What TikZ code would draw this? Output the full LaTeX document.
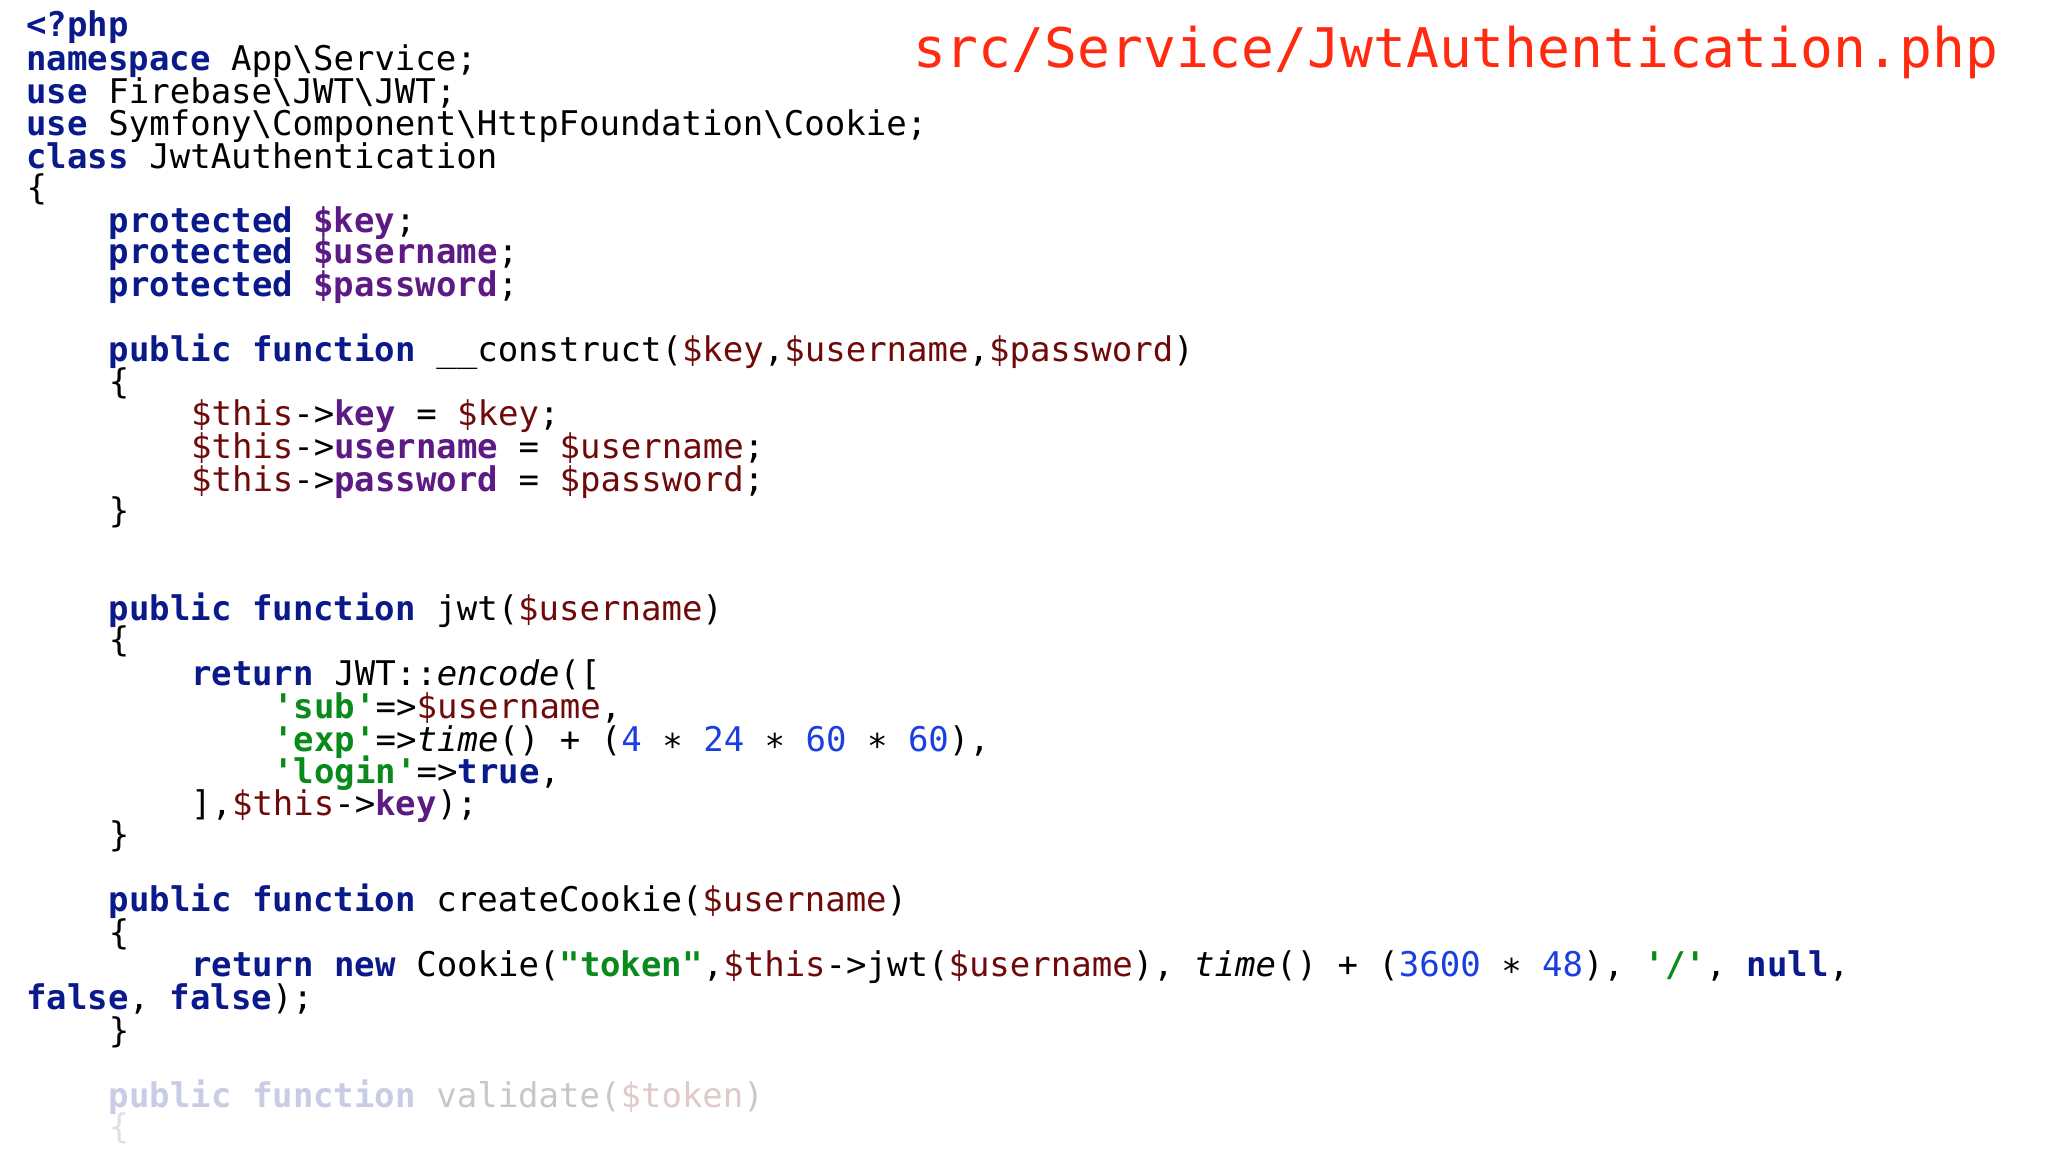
\documentclass[tikz,border=0pt]{standalone}
\usepackage{fontspec}
\setmainfont{DejaVu Sans}
\newfontfamily\codefont[Ligatures=NoCommon]{DejaVu Sans Mono}
\definecolor{kwc}{HTML}{0A1A8A}
\definecolor{pvc}{HTML}{5E1A84}
\definecolor{vac}{HTML}{6E0A0A}
\definecolor{stc}{HTML}{0A8A1A}
\definecolor{nuc}{HTML}{1A3FE0}
\definecolor{ttl}{HTML}{FF2A10}
\newcommand{\ckw}[1]{{\bfseries\color{kwc}#1}}
\newcommand{\cpv}[1]{{\bfseries\color{pvc}#1}}
\newcommand{\cva}[1]{{\color{vac}#1}}
\newcommand{\cst}[1]{{\bfseries\color{stc}#1}}
\newcommand{\cnum}[1]{{\color{nuc}#1}}
\newcommand{\cit}[1]{{\itshape #1}}
\newcommand{\sq}{\char"0027\relax}
\newcommand{\dq}{\char"0022\relax}
\newcommand{\bs}{\char"005C\relax}
\newcommand{\mulop}{\char"2217\relax}
\begin{document}
\begin{tikzpicture}[x=0.653pt,y=-0.653pt,
  cl/.style={anchor=base west,inner sep=0pt,font=\codefont\fontsize{17}{17}\selectfont}]
\useasboundingbox[fill=white] (0,0) rectangle (1568,882);
\node[cl] (l1) at (20,28) {\ckw{<?php}};
\node[cl] (l2) at (20,54) {\ckw{namespace} App\bs Service;};
\node[cl] (l3) at (20,79) {\ckw{use} Firebase\bs JWT\bs JWT;};
\node[cl] (l4) at (20,104) {\ckw{use} Symfony\bs Component\bs HttpFoundation\bs Cookie;};
\node[cl] (l5) at (20,129) {\ckw{class} JwtAuthentication};
\node[cl] (l6) at (20,153) {\{};
\node[cl] (l7) at (83,178) {\ckw{protected} \cpv{\$key};};
\node[cl] (l8) at (83,202) {\ckw{protected} \cpv{\$username};};
\node[cl] (l9) at (83,227) {\ckw{protected} \cpv{\$password};};
\node[cl] (l10) at (83,277) {\ckw{public} \ckw{function} \_\_construct(\cva{\$key},\cva{\$username},\cva{\$password})};
\node[cl] (l11) at (83,301) {\{};
\node[cl] (l12) at (146,326) {\cva{\$this}->\cpv{key} = \cva{\$key};};
\node[cl] (l13) at (146,351) {\cva{\$this}->\cpv{username} = \cva{\$username};};
\node[cl] (l14) at (146,376) {\cva{\$this}->\cpv{password} = \cva{\$password};};
\node[cl] (l15) at (83,400) {\}};
\node[cl] (l16) at (83,475) {\ckw{public} \ckw{function} jwt(\cva{\$username})};
\node[cl] (l17) at (83,499) {\{};
\node[cl] (l18) at (146,525) {\ckw{return} JWT::\cit{encode}([};
\node[cl] (l19) at (209,550) {\cst{\sq sub\sq}=>\cva{\$username},};
\node[cl] (l20) at (209,575) {\cst{\sq exp\sq}=>\cit{time}() + (\cnum{4} \mulop{} \cnum{24} \mulop{} \cnum{60} \mulop{} \cnum{60}),};
\node[cl] (l21) at (209,600) {\cst{\sq login\sq}=>\ckw{true},};
\node[cl] (l22) at (146,624) {],\cva{\$this}->\cpv{key});};
\node[cl] (l23) at (83,648) {\}};
\node[cl] (l24) at (83,698) {\ckw{public} \ckw{function} createCookie(\cva{\$username})};
\node[cl] (l25) at (83,723) {\{};
\node[cl] (l26) at (146,748) {\ckw{return} \ckw{new} Cookie(\cst{\dq token\dq},\cva{\$this}->jwt(\cva{\$username}), \cit{time}() + (\cnum{3600} \mulop{} \cnum{48}), \cst{\sq/\sq}, \ckw{null},};
\node[cl] (l27) at (20,773) {\ckw{false}, \ckw{false});};
\node[cl] (l28) at (83,798) {\}};
\node[cl,opacity=0.22] (l29) at (83,848) {\ckw{public} \ckw{function} validate(\cva{\$token})};
\node[cl,opacity=0.12] (l30) at (83,872) {\{};
\node[anchor=base east,inner sep=0pt,text=ttl,font=\codefont\fontsize{27.3}{27.3}\selectfont] (title) at (1530,52) {src/Service/JwtAuthentication.php};
\end{tikzpicture}
\end{document}
